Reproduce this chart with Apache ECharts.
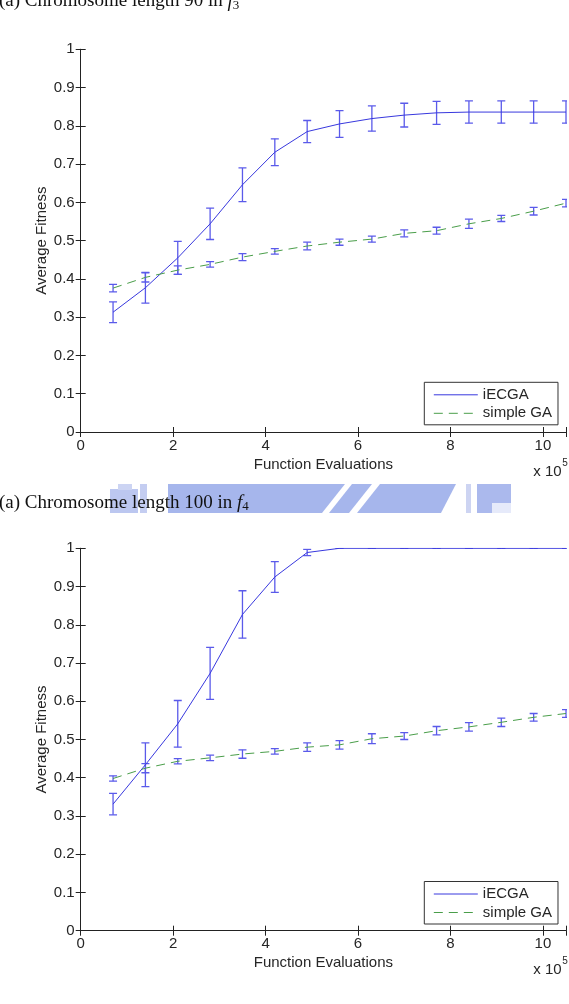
<!DOCTYPE html>
<html>
<head>
<meta charset="utf-8">
<script src="https://cdn.jsdelivr.net/npm/echarts@6/dist/echarts.min.js"></script>
<style>
  html, body { margin: 0; padding: 0; background: #fff; }
  #chart { width: 569px; height: 1004px; }
</style>
</head>
<body>
<div id="chart"></div>
<script>
// function evaluations (x 10^5)
const evals = [0.7, 1.4, 2.1, 2.8, 3.5, 4.2, 4.9, 5.6, 6.3, 7.0, 7.7, 8.4, 9.1, 9.8, 10.5];

// (a) chromosome length 90 in f3
const ecgaMean90 = [0.313, 0.377, 0.455, 0.544, 0.646, 0.731, 0.785, 0.805, 0.819, 0.828, 0.834, 0.836, 0.836, 0.836, 0.836];
const ecgaErr90  = [0.027, 0.040, 0.043, 0.041, 0.044, 0.035, 0.029, 0.035, 0.033, 0.031, 0.030, 0.029, 0.029, 0.029, 0.029];
const gaMean90   = [0.376, 0.404, 0.423, 0.438, 0.457, 0.472, 0.486, 0.496, 0.504, 0.519, 0.526, 0.544, 0.558, 0.577, 0.598];
const gaErr90    = [0.010, 0.012, 0.011, 0.007, 0.009, 0.007, 0.010, 0.008, 0.008, 0.009, 0.009, 0.012, 0.008, 0.010, 0.010];

// (a) chromosome length 100 in f4
const ecgaMean100 = [0.331, 0.434, 0.541, 0.673, 0.827, 0.925, 0.989, 1, 1, 1, 1, 1, 1, 1, 1];
const ecgaErr100  = [0.028, 0.057, 0.061, 0.068, 0.062, 0.040, 0.008, 0, 0, 0, 0, 0, 0, 0, 0];
const gaMean100   = [0.398, 0.425, 0.443, 0.452, 0.462, 0.469, 0.480, 0.486, 0.502, 0.509, 0.523, 0.533, 0.545, 0.558, 0.568];
const gaErr100    = [0.007, 0.012, 0.007, 0.007, 0.011, 0.007, 0.011, 0.011, 0.013, 0.009, 0.011, 0.011, 0.011, 0.010, 0.010];

const xTicks = [0, 2, 4, 6, 8, 10];

const FONT = "'Liberation Sans', Arial, sans-serif";
const SERIF = "'Liberation Serif', 'Times New Roman', serif";
const blue = '#3838de';
const barBlue = '#5a5aea';
const green = '#4a9e4a';
const axisColor = '#222';

const chart = echarts.init(document.getElementById('chart'));

function pairs(ys) { return evals.map((x, i) => [x, ys[i]]); }
function bars(ys, es) { return evals.map((x, i) => [x, ys[i] - es[i], ys[i] + es[i]]); }

function renderErrorBar(params, api) {
  const x = api.value(0);
  const lo = api.coord([x, api.value(1)]);
  const hi = api.coord([x, api.value(2)]);
  const w = 4;
  const style = { stroke: barBlue, lineWidth: 1.3 };
  return {
    type: 'group',
    children: [
      { type: 'line', shape: { x1: lo[0], y1: lo[1], x2: hi[0], y2: hi[1] }, style: style },
      { type: 'line', shape: { x1: lo[0] - w, y1: lo[1], x2: lo[0] + w, y2: lo[1] }, style: style },
      { type: 'line', shape: { x1: hi[0] - w, y1: hi[1], x2: hi[0] + w, y2: hi[1] }, style: style }
    ]
  };
}

const grids = [
  { left: 80.7, top: 49.3, width: 486, height: 382.7 },
  { left: 80.7, top: 548.3, width: 486, height: 382.4 }
];

const xAxes = [], yAxes = [], series = [], legends = [];
const sets = [
  [ecgaMean90, ecgaErr90, gaMean90, gaErr90],
  [ecgaMean100, ecgaErr100, gaMean100, gaErr100]
];

grids.forEach((g, gi) => {
  const base = {
    gridIndex: gi, type: 'value', min: 0, max: 10.5, interval: 2,
    axisLine: { show: true, lineStyle: { color: axisColor, width: 1 } },
    axisTick: { show: true, inside: true, length: 5, lineStyle: { color: axisColor } },
    splitLine: { show: false }
  };
  xAxes.push(Object.assign({}, base, {
    position: 'bottom',
    name: 'Function Evaluations', nameLocation: 'middle', nameGap: 25,
    nameTextStyle: { fontFamily: FONT, fontSize: 15, color: '#262626' },
    axisLabel: {
      margin: 6, fontFamily: FONT, fontSize: 15, color: '#262626',
      formatter: v => (xTicks.indexOf(v) >= 0 ? String(v) : '')
    }
  }));
  xAxes.push(Object.assign({}, base, { position: 'top', axisLabel: { show: false } }));

  const ybase = {
    gridIndex: gi, type: 'value', min: 0, max: 1, interval: 0.1,
    axisLine: { show: true, lineStyle: { color: axisColor, width: 1 } },
    axisTick: { show: true, inside: true, length: 5, lineStyle: { color: axisColor } },
    splitLine: { show: false }
  };
  yAxes.push(Object.assign({}, ybase, {
    position: 'left',
    name: 'Average Fitness', nameLocation: 'middle', nameGap: 31, nameMoveOverlap: false,
    nameTextStyle: { fontFamily: FONT, fontSize: 15, color: '#262626' },
    axisLabel: { margin: 6, fontFamily: FONT, fontSize: 15, color: '#262626' }
  }));
  yAxes.push(Object.assign({}, ybase, { position: 'right', axisLabel: { show: false } }));

  const [em, ee, gm, ge] = sets[gi];
  const xi = gi * 2, yi = gi * 2;
  series.push({
    name: 'iECGA', type: 'line', xAxisIndex: xi, yAxisIndex: yi,
    data: pairs(em), symbol: 'none', clip: true,
    lineStyle: { color: blue, width: 1 }, itemStyle: { color: blue }, z: 3
  });
  series.push({
    name: 'simple GA', type: 'line', xAxisIndex: xi, yAxisIndex: yi,
    data: pairs(gm), symbol: 'none', clip: true,
    lineStyle: { color: green, width: 1, type: [9, 6] }, itemStyle: { color: green }, z: 3
  });
  series.push({
    name: 'iECGA err', type: 'custom', xAxisIndex: xi, yAxisIndex: yi,
    data: bars(em, ee), renderItem: renderErrorBar, clip: true,
    encode: { x: 0, y: [1, 2] }, z: 2
  });
  series.push({
    name: 'simple GA err', type: 'custom', xAxisIndex: xi, yAxisIndex: yi,
    data: bars(gm, ge), renderItem: renderErrorBar, clip: true,
    encode: { x: 0, y: [1, 2] }, z: 2
  });

  legends.push({
    data: ['iECGA', 'simple GA'],
    orient: 'vertical',
    left: 424.3, top: gi === 0 ? 382.3 : 881.5,
    padding: [5, 6, 4, 9],
    itemWidth: 44, itemHeight: 12, itemGap: 3.5,
    itemStyle: { opacity: 0 },
    lineStyle: { width: 1 },
    backgroundColor: '#fff', borderColor: '#333', borderWidth: 1, borderRadius: 0,
    selectedMode: false,
    textStyle: { fontFamily: FONT, fontSize: 15, color: '#262626' }
  });
});

// pale blue smear behind the second caption (scan artefact)
const smear = '#a6b6ec';
const graphic = [
  { type: 'rect', shape: { x: 110, y: 489, width: 28, height: 24 }, style: { fill: '#bcc7f0' } },
  { type: 'rect', shape: { x: 118, y: 484, width: 14, height: 6 }, style: { fill: '#ccd4f3' } },
  { type: 'rect', shape: { x: 140, y: 484, width: 7, height: 29 }, style: { fill: '#c4cdf1' } },
  { type: 'polygon', shape: { points: [[168, 484], [345, 484], [322, 513], [168, 513]] }, style: { fill: smear } },
  { type: 'polygon', shape: { points: [[352, 484], [372, 484], [349, 513], [329, 513]] }, style: { fill: smear } },
  { type: 'polygon', shape: { points: [[380, 484], [456, 484], [441, 513], [357, 513]] }, style: { fill: smear } },
  { type: 'rect', shape: { x: 466, y: 484, width: 5, height: 29 }, style: { fill: '#cdd4f2' } },
  { type: 'rect', shape: { x: 477, y: 484, width: 34, height: 29 }, style: { fill: '#abb9ed' } },
  { type: 'rect', shape: { x: 492, y: 503, width: 19, height: 10 }, style: { fill: '#e6eafa' } },
  // captions
  {
    type: 'text', left: -1, top: -8,
    style: {
      text: '(a) Chromosome length 90 in {i|f}{s|3}',
      fontFamily: SERIF, fontSize: 19, fill: '#111',
      rich: { i: { fontStyle: 'italic', fontFamily: SERIF, fontSize: 19 }, s: { fontFamily: SERIF, fontSize: 13, padding: [8, 0, 0, 0] } }
    }
  },
  {
    type: 'text', left: -1, top: 493.5,
    style: {
      text: '(a) Chromosome length 100 in {i|f}{s|4}',
      fontFamily: SERIF, fontSize: 19, fill: '#111',
      rich: { i: { fontStyle: 'italic', fontFamily: SERIF, fontSize: 19 }, s: { fontFamily: SERIF, fontSize: 13, padding: [8, 0, 0, 0] } }
    }
  },
  // exponent labels
  { type: 'text', left: 533.3, top: 464, style: { text: 'x 10', fontFamily: FONT, fontSize: 15, fill: '#262626' } },
  { type: 'text', left: 562.3, top: 458, style: { text: '5', fontFamily: FONT, fontSize: 10, fill: '#262626' } },
  { type: 'text', left: 533.3, top: 962.6, style: { text: 'x 10', fontFamily: FONT, fontSize: 15, fill: '#262626' } },
  { type: 'text', left: 562.3, top: 956.5, style: { text: '5', fontFamily: FONT, fontSize: 10, fill: '#262626' } }
];

chart.setOption({
  backgroundColor: '#fff',
  animation: false,
  grid: grids,
  xAxis: xAxes,
  yAxis: yAxes,
  legend: legends,
  graphic: graphic,
  series: series
});
</script>
</body>
</html>
